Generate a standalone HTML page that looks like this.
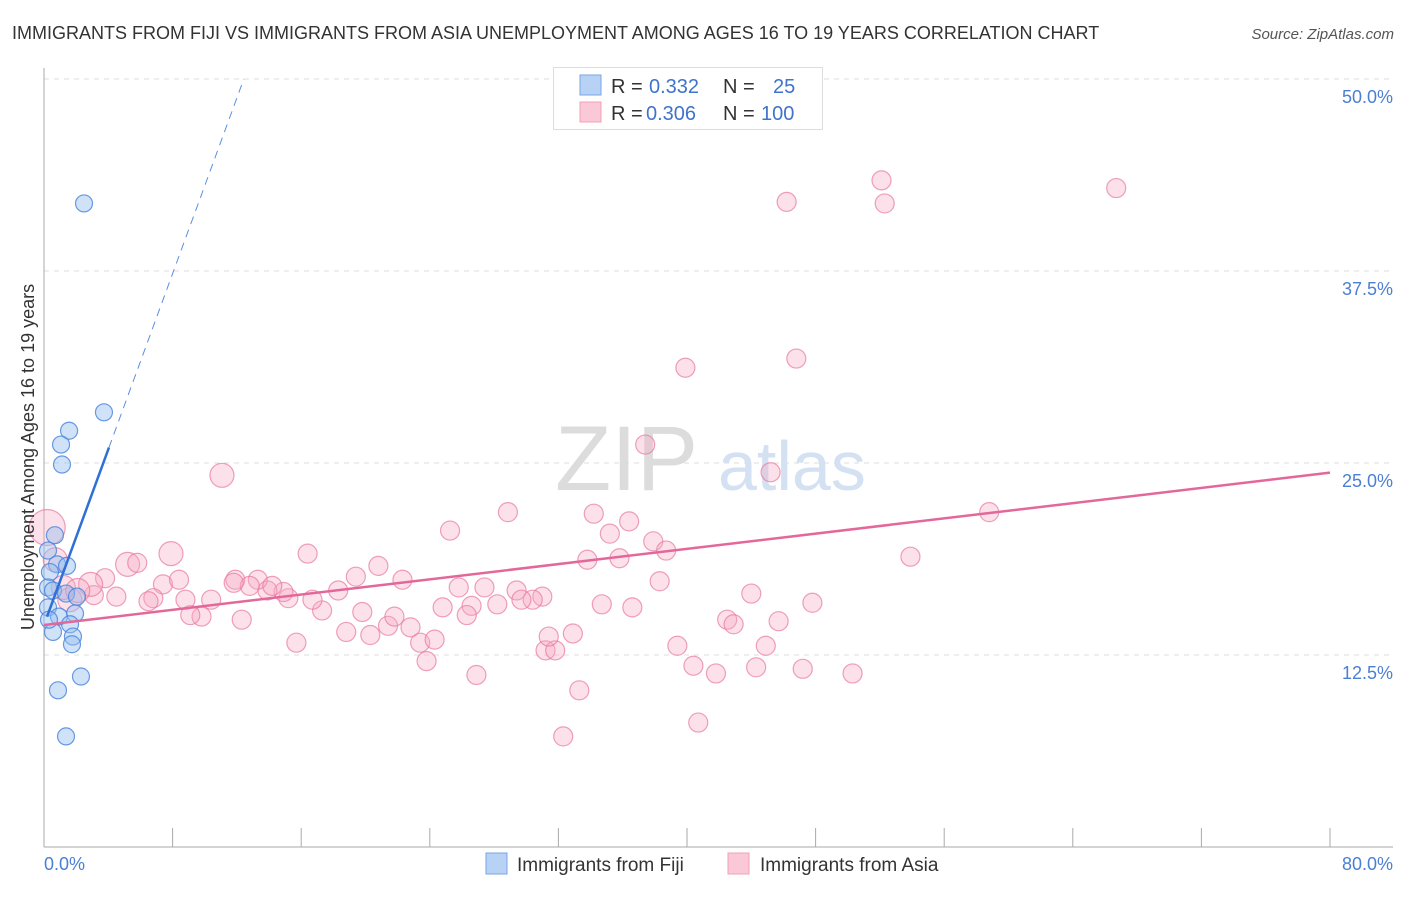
<!DOCTYPE html>
<html><head><meta charset="utf-8"><style>
body{margin:0;background:#fff;font-family:"Liberation Sans",sans-serif;}
svg text{font-family:"Liberation Sans",sans-serif;}
</style></head><body>
<svg id="chart" width="1406" height="892" xmlns="http://www.w3.org/2000/svg">
<text x="12" y="39" font-size="18" fill="#333">IMMIGRANTS FROM FIJI VS IMMIGRANTS FROM ASIA UNEMPLOYMENT AMONG AGES 16 TO 19 YEARS CORRELATION CHART</text>
<text x="1394" y="39" font-size="15" fill="#555" text-anchor="end" font-style="italic">Source: ZipAtlas.com</text>
<g id="grid"></g>
<text x="555" y="490" font-size="92" fill="#dcdcdc" font-family="Liberation Serif">ZIP</text>
<text x="718" y="490" font-size="70" fill="#d3e1f3">atlas</text>
<g id="pts"></g>
<g id="lines"></g>
<text transform="translate(34,457) rotate(-90)" font-size="18" fill="#333" text-anchor="middle">Unemployment Among Ages 16 to 19 years</text>
<text x="44" y="870" font-size="18" fill="#4a7fd4">0.0%</text>
<text x="1393" y="870" font-size="18" fill="#4a7fd4" text-anchor="end">80.0%</text>
<g>
<rect x="553.5" y="67.5" width="269" height="62" fill="#fff" stroke="#ddd"/>
<rect x="580" y="75" width="21" height="20" fill="#b8d2f5" stroke="#7aa6e6"/>
<rect x="580" y="102" width="21" height="20" fill="#fac8d7" stroke="#f0a0b8"/>
<text x="611" y="93" font-size="20" fill="#333">R = </text><text x="649" y="93" font-size="20" fill="#3f73cc">0.332</text>
<text x="723" y="93" font-size="20" fill="#333">N = </text><text x="773" y="93" font-size="20" fill="#3f73cc">25</text>
<text x="611" y="120" font-size="20" fill="#333">R = </text><text x="646" y="120" font-size="20" fill="#3f73cc">0.306</text>
<text x="723" y="120" font-size="20" fill="#333">N = </text><text x="761" y="120" font-size="20" fill="#3f73cc">100</text>
</g>
<g>
<rect x="486" y="853" width="21" height="21" fill="#b8d2f5" stroke="#7aa6e6"/>
<text x="517" y="871" font-size="19" fill="#333">Immigrants from Fiji</text>
<rect x="728" y="853" width="21" height="21" fill="#fac8d7" stroke="#f0a0b8"/>
<text x="760" y="871" font-size="19" fill="#333">Immigrants from Asia</text>
</g>
</svg>
<script>
const yTicks=[12.5,25,37.5,50];
const yTickLabels=["12.5%","25.0%","37.5%","50.0%"];
const xTicks=[0,8,16,24,32,40,48,56,64,72,80];
const fijiX=[2.49,3.73,1.56,1.06,1.12,0.68,0.25,0.81,1.43,0.37,0.25,0.56,1.37,2.05,0.25,1.93,0.93,1.62,0.56,1.80,1.74,2.30,0.87,1.37,0.31];
const fijiY=[41.9,28.3,27.1,26.2,24.9,20.3,19.3,18.4,18.3,17.9,16.9,16.7,16.5,16.3,15.6,15.2,15.0,14.5,14.0,13.7,13.2,11.1,10.2,7.2,14.8];
const asiaX=[11.07,25.26,28.86,34.2,36.4,35.2,37.9,38.7,35.8,33.8,53.9,58.8,39.9,46.8,37.4,45.2,46.2,52.1,52.3,66.7,7.9,5.2,5.8,16.4,20.8,19.4,22.3,25.8,27.4,29.4,31.0,30.4,29.7,28.2,26.6,24.8,34.7,36.6,38.3,44.0,47.8,42.5,42.9,45.7,44.9,39.4,40.4,41.8,44.3,47.2,50.3,40.7,33.3,32.3,26.9,23.8,23.4,24.3,22.8,21.4,20.3,18.8,19.8,21.8,17.3,16.7,18.3,15.7,15.2,14.9,13.9,13.3,11.9,12.8,14.2,11.8,12.3,10.4,9.8,9.1,8.8,7.4,8.4,6.8,6.5,4.5,3.8,3.1,2.9,1.6,0.7,0.2,1.2,2.1,31.2,31.8,32.9,31.4,26.3];
const asiaY=[24.2,20.6,21.8,21.7,21.2,20.4,19.9,19.3,18.8,18.7,18.9,21.8,31.2,31.8,26.2,24.4,42.0,43.4,41.9,42.9,19.1,18.4,18.5,19.1,18.3,17.6,17.4,16.9,16.9,16.7,16.3,16.1,16.1,15.8,15.7,15.6,15.8,15.6,17.3,16.5,15.9,14.8,14.5,14.7,13.1,13.1,11.8,11.3,11.7,11.6,11.3,8.1,10.2,7.2,11.2,12.1,13.3,13.5,14.3,14.4,13.8,14.0,15.3,15.0,15.4,16.1,16.7,13.3,16.2,16.6,16.7,17.4,17.4,17.0,17.0,17.2,14.8,16.1,15.0,15.1,16.1,17.1,17.4,16.2,16.0,16.3,17.5,16.4,17.1,16.1,18.7,20.8,16.9,16.7,12.8,12.8,13.9,13.7,15.1];
const asiaBig=[0,20,21,88,89,90,91,92,93];
const fijiTrend=[14.45,2.86];
const asiaTrend=[14.45,0.124];
const X=v=>44+v*16.075, Y=v=>847-v*15.36;
const NS='http://www.w3.org/2000/svg';
function mk(t,a,p){const e=document.createElementNS(NS,t);for(const k in a)e.setAttribute(k,a[k]);p.appendChild(e);return e;}
const grid=document.getElementById('grid');
yTicks.forEach((t,i)=>{
 const l=mk('line',{x1:44,x2:1393,y1:Y(t),y2:Y(t),stroke:'#ddd','stroke-dasharray':'5,5'},grid);
 
 
 const tx=mk('text',{x:1393,y:Y(t)+24,'font-size':18,fill:'#4a7fd4','text-anchor':'end'},grid);
 tx.textContent=yTickLabels[i];
 
 
});
const ax=mk('line',{x1:44,x2:44,y1:68,y2:847,stroke:'#aaa'},grid);


const bx=mk('line',{x1:44,x2:1393,y1:847,y2:847,stroke:'#aaa'},grid);


xTicks.forEach(t=>{const l=mk('line',{x1:X(t),x2:X(t),y1:828,y2:847,stroke:'#aaa'},grid);
 
 });
const pts=document.getElementById('pts');
asiaX.forEach((x,i)=>{const r=i===91?18:(asiaBig.includes(i)?12:9.5);
 const c=mk('circle',{cx:X(x),cy:Y(asiaY[i]),r:r,fill:'rgba(246,170,195,0.35)',stroke:'rgba(232,120,160,0.7)','stroke-width':1.2},pts);
 
 });
fijiX.forEach((x,i)=>{
 const c=mk('circle',{cx:X(x),cy:Y(fijiY[i]),r:8.5,fill:'rgba(150,190,240,0.45)',stroke:'rgba(70,130,220,0.8)','stroke-width':1.2},pts);
 
 });
const lines=document.getElementById('lines');
const fy=x=>fijiTrend[0]+fijiTrend[1]*x, ay=x=>asiaTrend[0]+asiaTrend[1]*x;
const l1=mk('line',{x1:X(0.19),y1:Y(fy(0.19)),x2:X(4.04),y2:Y(fy(4.04)),stroke:'#2f6fd6','stroke-width':2.5},lines);


const x2=(50-fijiTrend[0])/fijiTrend[1];
const l2=mk('line',{x1:X(4.04),y1:Y(fy(4.04)),x2:X(x2),y2:Y(50),stroke:'#5a8fe0','stroke-width':1,'stroke-dasharray':'8,6'},lines);


const l3=mk('line',{x1:X(0),y1:Y(ay(0)),x2:X(80),y2:Y(ay(80)),stroke:'#e4679a','stroke-width':2.5},lines);


</script>
</body></html>
